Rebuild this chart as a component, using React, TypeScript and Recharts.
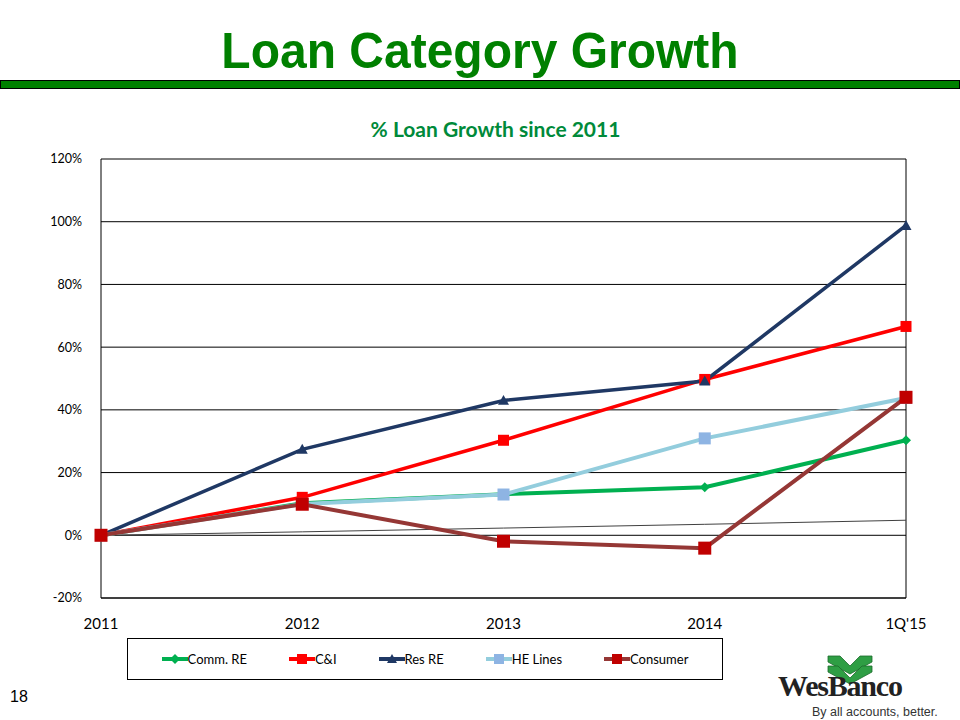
import { LineChart, Line, XAxis, YAxis, CartesianGrid, ReferenceLine } from 'recharts';

const periods = ['2011', '2012', '2013', '2014', "1Q'15"];
const commRe = [0, 10.2, 13.1, 15.3, 30.3];
const cAndI = [0, 12.1, 30.3, 49.7, 66.6];
const resRe = [0, 27.4, 43.0, 49.2, 98.8];
const heLines = [0, 10.0, 13.0, 30.9, 43.8];
const consumer = [0, 9.9, -1.9, -4.1, 44.0];
const baseline = [0, 1.1, 2.3, 3.5, 4.8];
const yTicks = [-20, 0, 20, 40, 60, 80, 100, 120];

const data = periods.map((p, i) => ({
  period: p,
  commRe: commRe[i],
  cAndI: cAndI[i],
  resRe: resRe[i],
  heLines: heLines[i],
  consumer: consumer[i],
  baseline: baseline[i],
}));

const GREEN = '#008000';
const FONT = 'Lato, "Open Sans", sans-serif';

const series = [
  { key: 'commRe', name: 'Comm. RE', line: '#00B050', fill: '#00B050', kind: 'diamond', width: 4, size: 10 },
  { key: 'cAndI', name: 'C&I', line: '#FF0000', fill: '#FF0000', kind: 'square', width: 3.5, size: 11 },
  { key: 'resRe', name: 'Res RE', line: '#1F3864', fill: '#1F3864', kind: 'triangle', width: 3.5, size: 11 },
  { key: 'heLines', name: 'HE Lines', line: '#93CDDD', fill: '#8EB4E3', kind: 'square', width: 4, size: 12 },
  { key: 'consumer', name: 'Consumer', line: '#953735', fill: '#C00000', kind: 'square', width: 4, size: 13 },
];

// marker shapes, drawn around the point the scale gives us
function marker(kind: string, fill: string, size: number) {
  return (props: any) => {
    const { cx, cy, index } = props;
    if (cx == null || cy == null) return <g key={index} />;
    const h = size / 2;
    if (kind === 'diamond') {
      return (
        <polygon key={index} points={`${cx},${cy - h} ${cx + h},${cy} ${cx},${cy + h} ${cx - h},${cy}`} fill={fill} />
      );
    }
    if (kind === 'triangle') {
      return (
        <polygon key={index} points={`${cx},${cy - h} ${cx + h},${cy + h * 0.8} ${cx - h},${cy + h * 0.8}`} fill={fill} />
      );
    }
    return <rect key={index} x={cx - h} y={cy - h} width={size} height={size} fill={fill} />;
  };
}

function LegendBox() {
  return (
    <div
      style={{
        position: 'absolute',
        left: 127,
        top: 638,
        width: 594,
        height: 40,
        border: '1px solid #000',
        display: 'flex',
        alignItems: 'center',
        justifyContent: 'center',
        gap: 42,
        fontFamily: FONT,
        fontSize: 13,
        background: '#fff',
      }}
    >
      {series.map((s) => (
        <div key={s.key} style={{ display: 'flex', alignItems: 'center' }}>
          <svg width={26} height={12}>
            <line x1={0} y1={6} x2={26} y2={6} stroke={s.line} strokeWidth={4} />
            {s.kind === 'diamond' && <polygon points="13,1 18,6 13,11 8,6" fill={s.fill} />}
            {s.kind === 'triangle' && <polygon points="13,1 18,10 8,10" fill={s.fill} />}
            {s.kind === 'square' && <rect x={8} y={1} width={10} height={10} fill={s.fill} />}
          </svg>
          <span>{s.name}</span>
        </div>
      ))}
    </div>
  );
}

function Logo() {
  return (
    <svg width={190} height={70} style={{ position: 'absolute', left: 770, top: 650 }}>
      <g fill="#2E9E44" stroke="#1C6B2B" strokeWidth={0.8}>
        <polygon points="58,6 70,6 80,16 90,6 102,6 102,12 80,24 58,12" />
        <polygon points="58,16 68,16 80,28 92,16 102,16 102,22 80,34 58,22" />
      </g>
      <text x={8} y={46} fontFamily='"Liberation Serif", "DejaVu Serif", serif' fontWeight="bold" fontSize={30} fill="#222" letterSpacing={-1.2}>
        WesBanco
      </text>
      <text x={42} y={66} fontFamily='"Liberation Sans", Arial, sans-serif' fontSize={12.5} fill="#333">
        By all accounts, better.
      </text>
    </svg>
  );
}

export default function App() {
  return (
    <div style={{ position: 'absolute', left: 0, top: 0, width: 960, height: 720, background: '#fff', overflow: 'hidden' }}>
      <div
        style={{
          position: 'absolute',
          top: 22,
          width: 960,
          textAlign: 'center',
          fontFamily: '"Liberation Sans", Arial, sans-serif',
          fontWeight: 'bold',
          fontSize: 50,
          color: GREEN,
          transform: 'scaleX(0.96)',
        }}
      >
        Loan Category Growth
      </div>
      <div style={{ position: 'absolute', left: 0, top: 80, width: 958, height: 7, background: GREEN, border: '1px solid #000' }} />
      <div
        style={{
          position: 'absolute',
          top: 116,
          left: 93,
          width: 805,
          textAlign: 'center',
          fontFamily: FONT,
          fontWeight: 'bold',
          fontSize: 21,
          color: '#008A3A',
        }}
      >
        % Loan Growth since 2011
      </div>

      <div style={{ position: 'absolute', left: 0, top: 0 }}>
        <LineChart width={960} height={720} data={data} margin={{ top: 159, right: 54, bottom: 92, left: 41 }}>
          <CartesianGrid stroke="#000" vertical={false} />
          <XAxis
            dataKey="period"
            stroke="#000"
            tickLine={false}
            tick={{ fill: '#000', fontSize: 15, fontFamily: FONT }}
            tickMargin={14}
            height={30}
          />
          <YAxis
            domain={[-20, 120]}
            ticks={yTicks}
            tickFormatter={(v: number) => `${v}%`}
            stroke="#000"
            tickLine={false}
            tick={{ fill: '#000', fontSize: 12.5, fontFamily: FONT }}
            tickMargin={13}
            width={60}
          />
          <ReferenceLine x="1Q'15" stroke="#000" strokeWidth={1} />
          <Line dataKey="baseline" stroke="#404040" strokeWidth={1} dot={false} isAnimationActive={false} />
          {series.map((s) => (
            <Line
              key={s.key}
              dataKey={s.key}
              name={s.name}
              stroke={s.line}
              strokeWidth={s.width}
              dot={marker(s.kind, s.fill, s.size)}
              isAnimationActive={false}
            />
          ))}
        </LineChart>
      </div>

      <LegendBox />
      <div style={{ position: 'absolute', left: 10, top: 688, fontFamily: 'Arial, "Liberation Sans", sans-serif', fontSize: 16 }}>18</div>
      <Logo />
    </div>
  );
}
